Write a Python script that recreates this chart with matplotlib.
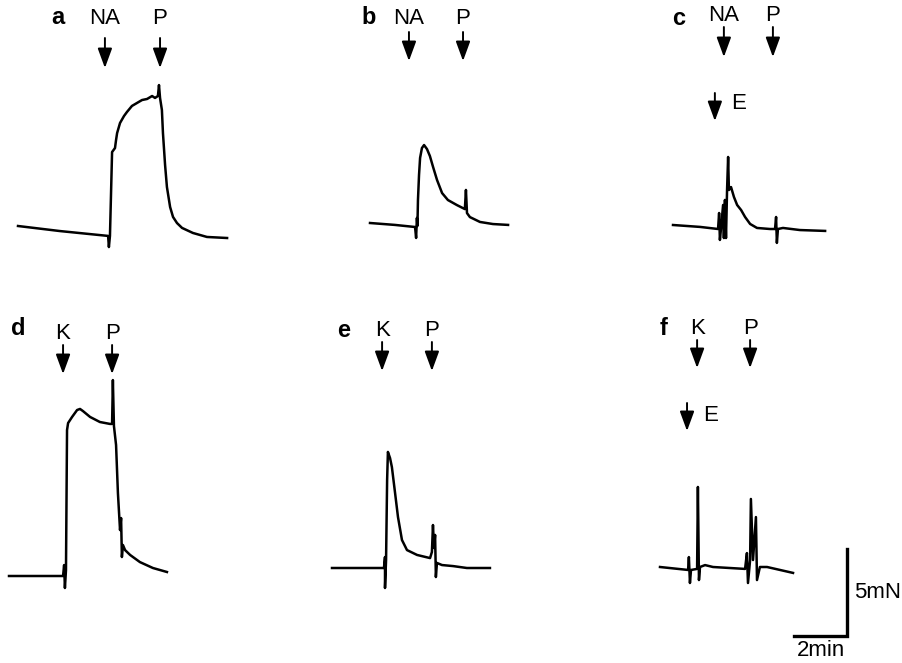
import matplotlib
matplotlib.use("Agg")
import matplotlib.pyplot as plt
import numpy as np

plt.rcParams['font.family'] = ['Liberation Sans', 'DejaVu Sans']

# ---------------- data: time (min) and force (mN) relative to trace start ----
a_t = [0, 1.58, 3.40, 3.43, 3.47, 3.55, 3.66, 3.70, 3.74, 3.85, 4.00, 4.11, 4.30, 4.49,
       4.68, 4.87, 5.06, 5.17, 5.28, 5.32, 5.36, 5.43, 5.47, 5.55, 5.62, 5.74, 5.85,
       6.00, 6.19, 6.60, 7.13, 7.89]
a_f = [0, -0.29, -0.57, -1.21, -0.57, 4.25, 4.48, 4.94, 5.34, 5.92, 6.32, 6.55, 6.90, 7.07,
       7.24, 7.30, 7.47, 7.36, 7.47, 8.10, 7.36, 6.67, 5.34, 3.51, 2.24, 1.09, 0.52,
       0.17, -0.11, -0.40, -0.63, -0.69]

b_t = [0, 0.94, 1.70, 1.74, 1.77, 1.79, 1.81, 1.85, 1.89, 1.96, 2.04, 2.15, 2.26, 2.38,
       2.53, 2.72, 2.94, 3.28, 3.58, 3.62, 3.66, 3.77, 4.15, 4.64, 5.21]
b_f = [0, -0.11, -0.23, -0.86, 0.29, -0.17, 1.32, 2.76, 3.74, 4.31, 4.48, 4.25, 3.85, 3.22,
       2.47, 1.72, 1.32, 1.03, 0.80, 1.90, 0.57, 0.34, 0.06, -0.06, -0.11]

c_t = [0, 1.02, 1.70, 1.74, 1.77, 1.81, 1.89, 1.92, 1.96, 2.00, 2.04, 2.08, 2.11, 2.19,
       2.30, 2.42, 2.57, 2.72, 2.91, 3.17, 3.66, 3.85, 3.89, 3.92, 3.96, 4.15, 4.79, 5.74]
c_f = [0, -0.11, -0.23, 0.69, -0.86, -0.23, 1.15, -0.75, 1.44, -0.75, 2.01, 3.91, 2.01, 2.18,
       1.61, 1.15, 0.86, 0.46, 0.06, -0.17, -0.23, -0.23, 0.46, -1.03, -0.23, -0.17, -0.29, -0.34]

d_t = [0, 2.04, 2.08, 2.11, 2.15, 2.19, 2.23, 2.38, 2.57, 2.68, 2.79, 3.06, 3.43, 3.81,
       3.89, 3.92, 3.96, 4.04, 4.11, 4.19, 4.23, 4.26, 4.30, 4.38, 4.57, 4.94, 5.43, 5.96]
d_f = [0, 0, 0.63, -0.69, 0.34, 8.39, 8.79, 9.14, 9.54, 9.60, 9.48, 9.14, 8.85, 8.74,
       8.74, 11.26, 8.62, 7.53, 4.77, 2.64, 3.33, 1.09, 1.78, 1.49, 1.21, 0.80, 0.46, 0.23]

e_t = [0, 1.96, 2.00, 2.00, 2.04, 2.08, 2.11, 2.19, 2.26, 2.38, 2.49, 2.64, 2.83, 3.21,
       3.70, 3.77, 3.81, 3.85, 3.89, 3.92, 3.96, 4.15, 4.57, 5.09, 5.96]
e_f = [0, 0, 0.63, -1.15, 0.46, 5.06, 6.67, 6.32, 5.80, 4.31, 2.93, 1.61, 1.03, 0.75,
       0.57, 0.92, 2.47, 1.15, 1.90, -0.52, 0.29, 0.17, 0.11, 0, 0]

f_t = [0, 1.06, 1.09, 1.13, 1.17, 1.40, 1.43, 1.47, 1.51, 1.70, 2.00, 3.21, 3.28, 3.32,
       3.40, 3.43, 3.51, 3.62, 3.66, 3.77, 4.04, 5.02]
f_f = [0, -0.17, 0.57, -0.92, -0.17, -0.11, 4.60, -0.75, 0, 0.11, 0, -0.11, 0.80, -0.92,
       0.40, 3.91, 0.40, 2.87, -0.75, 0, 0, -0.34]

# stimulus times (min, relative to trace start)
panel_letters = ['a', 'b', 'c', 'd', 'e', 'f']
stim_first = ['NA', 'NA', 'NA', 'K', 'K', 'K']
t_first = [3.28, 1.47, 1.92, 2.04, 1.89, 1.40]
t_P = [5.36, 3.51, 3.77, 3.89, 3.77, 3.40]
t_E = [None, None, 1.58, None, None, 1.02]

traces = [(a_t, a_f), (b_t, b_f), (c_t, c_f), (d_t, d_f), (e_t, e_f), (f_t, f_f)]

scale_time = 2   # min
scale_force = 5  # mN

# ---------------- layout (pixels) ----------------
W, H = 903, 663
PXM = 26.5   # px per min
PXN = 17.4   # px per mN
origins = [(18, 226), (370, 223), (673, 225), (9, 576), (332, 568), (660, 567)]
letter_pos = [(58, 17), (369, 17), (679, 18), (18, 328), (344, 330), (664, 328)]
stim_text_y = [18, 18, 15, 333, 330, 328]
arrow_y = [(38, 68), (32, 61), (27, 57), (345, 374), (342, 371), (340, 368)]
e_arrow_y = [None, None, (93, 121), None, None, (403, 431)]
e_text_y = [None, None, 103, None, None, 415]
bar_corner = (847, 636)


def X(px):
    return px / PXM


def Y(py):
    return -py / PXN


fig = plt.figure(figsize=(W / 100, H / 100), dpi=100)
ax = fig.add_axes([0, 0, 1, 1])
ax.set_xlim(0, W / PXM)
ax.set_ylim(-H / PXN, 0)
ax.axis('off')

fs = 16


def arrow(x, y0, y1):
    ax.annotate('', xy=(x, Y(y1)), xytext=(x, Y(y0)),
                arrowprops=dict(arrowstyle='-|>,head_length=0.6,head_width=0.22',
                                color='black', lw=1.4, mutation_scale=20,
                                shrinkA=0, shrinkB=0))


for i in range(6):
    ox, oy = origins[i]
    t, f = traces[i]
    ax.plot(X(ox) + np.array(t), Y(oy) + np.array(f), color='black', lw=1.8,
            solid_joinstyle='round')
    lx, ly = letter_pos[i]
    ax.text(X(lx), Y(ly), panel_letters[i], ha='center', va='center',
            fontsize=fs + 1, fontweight='bold')
    xa = X(ox) + t_first[i]
    xp = X(ox) + t_P[i]
    ax.text(xa, Y(stim_text_y[i]), stim_first[i], ha='center', va='center', fontsize=fs)
    ax.text(xp, Y(stim_text_y[i]), 'P', ha='center', va='center', fontsize=fs)
    arrow(xa, *arrow_y[i])
    arrow(xp, *arrow_y[i])
    if t_E[i] is not None:
        xe = X(ox) + t_E[i]
        arrow(xe, *e_arrow_y[i])
        ax.text(xe + 0.6, Y(e_text_y[i]), 'E', ha='left', va='center', fontsize=fs)

# scale bar
cx, cy = X(bar_corner[0]), Y(bar_corner[1])
ax.plot([cx - scale_time, cx, cx], [cy, cy, cy + scale_force], color='black', lw=2.4,
        solid_joinstyle='miter')
ax.text(cx + 0.25, cy + scale_force * 0.5, f'{scale_force}mN', ha='left', va='center',
        fontsize=fs)
ax.text(cx - scale_time / 2, cy - 0.85, f'{scale_time}min', ha='center', va='center',
        fontsize=fs)

fig.savefig('out.png', dpi=100)
